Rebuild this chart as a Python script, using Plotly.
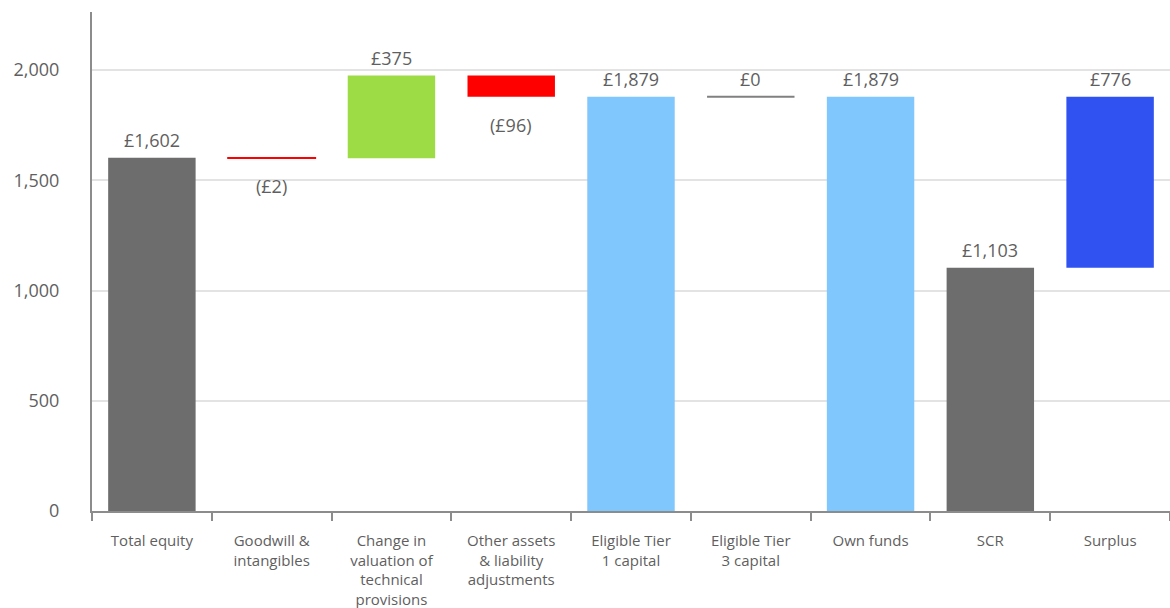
import plotly.graph_objects as go

categories = ["Total equity", "Goodwill &<br>intangibles", "Change in<br>valuation of<br>technical<br>provisions",
              "Other assets<br>& liability<br>adjustments", "Eligible Tier<br>1 capital", "Eligible Tier<br>3 capital",
              "Own funds", "SCR", "Surplus"]
values = [1602, -2, 375, -96, 1879, 0, 1879, 1103, 776]
bases = [0, 1602, 1600, 1975, 0, 1879, 0, 0, 1103]
labels = ["£1,602", "(£2)", "£375", "(£96)", "£1,879", "£0", "£1,879", "£1,103", "£776"]
colors = ["#6d6d6d", "#ff0000", "#9edc46", "#ff0000", "#80c7fd", "#808080", "#80c7fd", "#6d6d6d", "#2f52f0"]

FONT = "Open Sans"
TXT = "#5f5f5f"

fig = go.Figure()
fig.add_trace(go.Bar(
    x=categories, y=values, base=bases,
    marker=dict(color=colors, line=dict(color=colors, width=[0, 1.5, 0, 0, 0, 0, 0, 0, 0])),
    width=0.73, hoverinfo="skip", showlegend=False,
))

annotations = []
shapes = []
for i, (c, v, b, lab) in enumerate(zip(categories, values, bases, labels)):
    if v >= 0:
        annotations.append(dict(x=c, y=b + v, text=lab, showarrow=False, yanchor="bottom", yshift=4,
                                font=dict(family=FONT, size=18, color=TXT)))
    else:
        annotations.append(dict(x=c, y=b + v, text=lab, showarrow=False, yanchor="top", yshift=-14,
                                font=dict(family=FONT, size=18, color=TXT)))
    if v == 0:
        shapes.append(dict(type="line", xref="x", yref="y", x0=i - 0.365, x1=i + 0.365, y0=b, y1=b,
                           line=dict(color=colors[i], width=2)))

fig.update_layout(
    width=1170, height=608,
    margin=dict(l=92, r=0, t=12, b=97),
    paper_bgcolor="white", plot_bgcolor="white",
    font=dict(family=FONT, color=TXT),
    annotations=annotations, shapes=shapes,
    bargap=0.27,
    xaxis=dict(type="category", tickson="boundaries", ticks="outside", ticklen=8, tickwidth=2,
               tickcolor="#8c8c8c", showline=True, linecolor="#8c8c8c", linewidth=2,
               showgrid=False, tickfont=dict(family=FONT, size=15, color=TXT), tickangle=0,
               ticklabelstandoff=15, automargin=False),
    yaxis=dict(range=[0, 2263], tickvals=[0, 500, 1000, 1500, 2000], tickformat=",",
               showline=True, linecolor="#8c8c8c", linewidth=2, showgrid=True, gridcolor="#e3e3e3",
               gridwidth=1.5, zeroline=False, ticks="", ticklabelstandoff=27, automargin=False,
               tickfont=dict(family=FONT, size=18, color=TXT)),
)

fig.write_html("out.html", config={"displayModeBar": False},
               post_script="document.body.style.margin='0';document.body.style.overflow='hidden';")
